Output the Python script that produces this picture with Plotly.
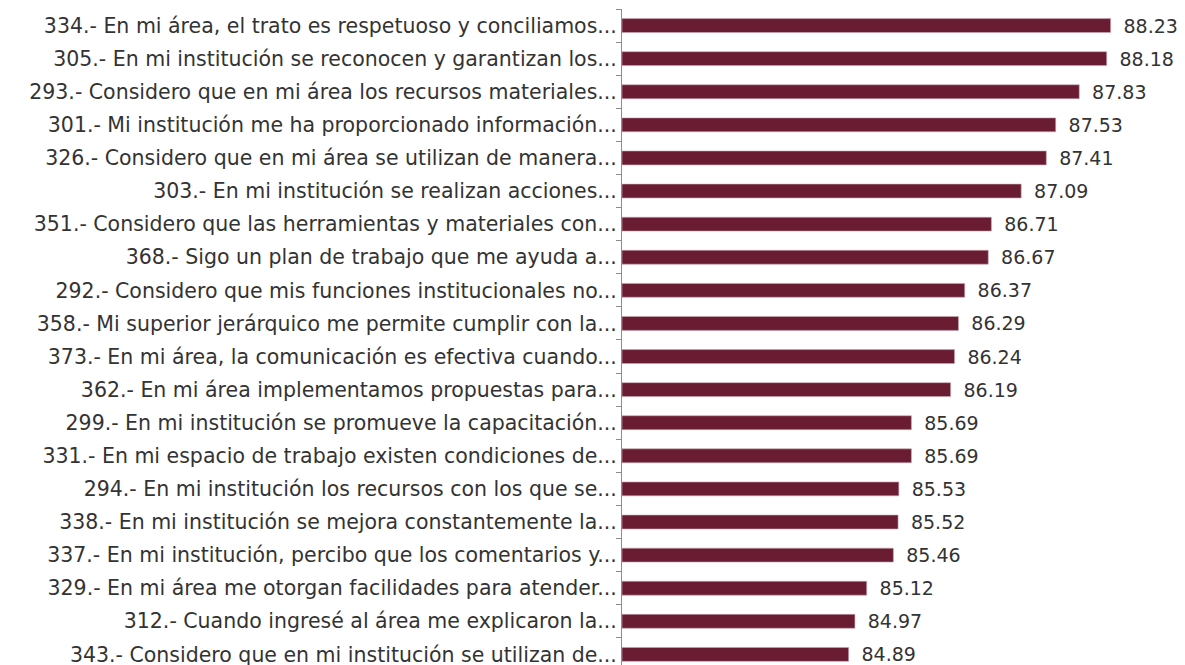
import plotly.graph_objects as go

labels = [
    "334.- En mi área, el trato es respetuoso y conciliamos...",
    "305.- En mi institución se reconocen y garantizan los...",
    "293.- Considero que en mi área los recursos materiales...",
    "301.- Mi institución me ha proporcionado información...",
    "326.- Considero que en mi área se utilizan de manera...",
    "303.- En mi institución se realizan acciones...",
    "351.- Considero que las herramientas y materiales con...",
    "368.- Sigo un plan de trabajo que me ayuda a...",
    "292.- Considero que mis funciones institucionales no...",
    "358.- Mi superior jerárquico me permite cumplir con la...",
    "373.- En mi área, la comunicación es efectiva cuando...",
    "362.- En mi área implementamos propuestas para...",
    "299.- En mi institución se promueve la capacitación...",
    "331.- En mi espacio de trabajo existen condiciones de...",
    "294.- En mi institución los recursos con los que se...",
    "338.- En mi institución se mejora constantemente la...",
    "337.- En mi institución, percibo que los comentarios y...",
    "329.- En mi área me otorgan facilidades para atender...",
    "312.- Cuando ingresé al área me explicaron la...",
    "343.- Considero que en mi institución se utilizan de...",
]
values = [88.23, 88.18, 87.83, 87.53, 87.41, 87.09, 86.71, 86.67, 86.37, 86.29,
          86.24, 86.19, 85.69, 85.69, 85.53, 85.52, 85.46, 85.12, 84.97, 84.89]

AXIS_MIN = 82
FONT = "DejaVu Sans"

fig = go.Figure(go.Bar(
    x=[v - AXIS_MIN for v in values],
    base=AXIS_MIN,
    y=labels,
    orientation="h",
    marker=dict(color="#691C32", line=dict(color="#c9a7b1", width=0.6)),
    text=["\u00a0\u2009" + f"{v:.2f}" for v in values],
    textposition="outside",
    constraintext="none",
    textfont=dict(family=FONT, size=19, color="#333333"),
    cliponaxis=False,
))

fig.update_layout(
    width=1177, height=657,
    margin=dict(l=614, r=14, t=1, b=0, autoexpand=False),
    plot_bgcolor="white", paper_bgcolor="white",
    bargap=0.58,
    showlegend=False,
    font=dict(family=FONT, size=20.5, color="#333333"),
    xaxis=dict(range=[AXIS_MIN, 89], visible=False, automargin=False),
    yaxis=dict(
        range=[19.32, -0.5],
        automargin=False,
        showline=True, linecolor="#8c8c8c", linewidth=1,
        ticks="outside", tickson="boundaries", ticklen=5, tickcolor="#8c8c8c",
        tickfont=dict(family=FONT, size=20.5, color="#333333"),
        showgrid=False,
    ),
)

fig.write_html("out.html")
